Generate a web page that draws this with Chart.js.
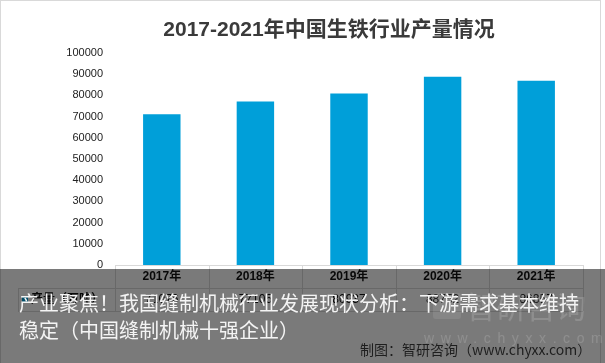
<!DOCTYPE html>
<html>
<head>
<meta charset="utf-8">
<script src="https://cdn.jsdelivr.net/npm/chart.js@4.4.1/dist/chart.umd.min.js"></script>
<style>
html,body{margin:0;padding:0;background:#fff;}
#wrap{position:relative;width:605px;height:363px;overflow:hidden;}
canvas{position:absolute;left:0;top:0;}
#overlay{position:absolute;left:0;top:269px;width:605px;height:94px;background:rgba(0,0,0,0.52);}
#wm1{position:absolute;left:466px;top:16px;font:30px "Noto Sans CJK SC";line-height:40px;color:rgba(255,255,255,0.15);white-space:nowrap;}
#wmicon{position:absolute;left:433px;top:24px;width:28px;height:26px;background:rgba(255,255,255,0.09);border-radius:3px;}
#wm2{position:absolute;left:424px;top:60px;font:14px "Liberation Sans";line-height:18px;color:rgba(255,255,255,0.15);letter-spacing:6.6px;white-space:nowrap;}
#l1{position:absolute;left:19px;top:21px;font:20px "Noto Sans CJK SC";color:#f4f4f4;white-space:nowrap;line-height:26px;}
#l2{position:absolute;left:19px;top:48px;font:20px "Noto Sans CJK SC";color:#f4f4f4;white-space:nowrap;line-height:26px;}
#src{position:absolute;left:360px;top:70px;font:14px "Noto Sans CJK SC";color:#1e1e1e;white-space:nowrap;line-height:20px;}
</style>
</head>
<body>
<div id="wrap">
<canvas id="c" width="605" height="363"></canvas>
<div id="overlay">
  <div id="wmicon"></div>
  <div id="wm1">智研咨询</div>
  <div id="wm2">www.chyxx.com</div>
  <div id="l1">产业聚焦！我国缝制机械行业发展现状分析：下游需求基本维持</div>
  <div id="l2">稳定（中国缝制机械十强企业）</div>
  <div id="src">制图：智研咨询（www.chyxx.com）</div>
</div>
</div>
<script>
const categories = ['2017年','2018年','2019年','2020年','2021年'];
const seriesName = '产量（万吨）';
const values = [71076, 77105, 80937, 88752, 86857];
const titleText = '2017-2021年中国生铁行业产量情况';
const yMin = 0, yMax = 100000, yStep = 10000;

const BLUE = '#009fd9';
const LINE = '#d9d9d9';

const tablePlugin = {
  id: 'tablePlugin',
  afterDraw(chart) {
    const ctx = chart.ctx;
    const xs = chart.scales.x;
    const ca = chart.chartArea;
    const top = ca.bottom;
    const mid = top + 23;
    const bot = top + 46;
    const left = 18;
    const n = categories.length;
    const w = (ca.right - ca.left) / n;
    ctx.save();
    ctx.fillStyle = '#3a3a3a';
    ctx.textAlign = 'center';
    ctx.textBaseline = 'middle';
    ctx.font = 'bold 21px "Liberation Sans", "Noto Sans CJK SC"';
    ctx.fillText(titleText, 329, 30);

    ctx.strokeStyle = LINE;
    ctx.lineWidth = 1;
    ctx.beginPath();
    ctx.moveTo(ca.left, top + 0.5); ctx.lineTo(ca.right, top + 0.5);
    ctx.moveTo(left, mid + 0.5); ctx.lineTo(ca.right, mid + 0.5);
    ctx.moveTo(left, bot + 0.5); ctx.lineTo(ca.right, bot + 0.5);
    ctx.moveTo(left + 0.5, mid); ctx.lineTo(left + 0.5, bot);
    for (let i = 0; i <= n; i++) {
      const x = Math.round(ca.left + i * w) + 0.5;
      ctx.moveTo(x, top); ctx.lineTo(x, bot);
    }
    ctx.stroke();
    ctx.fillStyle = '#111';
    ctx.font = 'bold 12px "Liberation Sans", "Noto Sans CJK SC"';
    categories.forEach((c, i) => {
      ctx.fillText(c, xs.getPixelForValue(i), top + 12);
    });
    ctx.font = '12px "Liberation Sans"';
    values.forEach((v, i) => {
      ctx.fillText(String(v), xs.getPixelForValue(i), mid + 12);
    });
    ctx.fillStyle = BLUE;
    ctx.fillRect(22, mid + 9, 6, 6);
    ctx.fillStyle = '#111';
    ctx.textAlign = 'left';
    ctx.font = 'bold 12px "Liberation Sans", "Noto Sans CJK SC"';
    ctx.fillText(seriesName, 31, mid + 12);
    ctx.strokeStyle = '#d9d9d9';
    ctx.strokeRect(0.5, 0.5, 600, 380);
    ctx.restore();
  }
};

new Chart(document.getElementById('c'), {
  type: 'bar',
  data: {
    labels: categories,
    datasets: [{
      label: seriesName,
      data: values,
      backgroundColor: BLUE,
      borderWidth: 0,
      categoryPercentage: 1.0,
      barPercentage: 0.4
    }]
  },
  options: {
    responsive: false,
    animation: false,
    devicePixelRatio: 1,
    layout: { padding: { left: 0, right: 22, top: 53, bottom: 52 } },
    plugins: {
      legend: { display: false },
      tooltip: { enabled: false },
      title: { display: false }
    },
    scales: {
      x: {
        display: true,
        grid: { display: false, drawTicks: false },
        border: { display: false },
        ticks: { display: false },
        afterFit(s) { s.height = 46; }
      },
      y: {
        min: yMin, max: yMax,
        grid: { display: false, drawTicks: false },
        border: { display: false },
        ticks: {
          stepSize: yStep,
          padding: 12,
          color: '#222',
          font: { family: '"Liberation Sans"', size: 11 },
          callback: (v) => String(v)
        },
        afterFit(s) { s.width = 115; }
      }
    }
  },
  plugins: [tablePlugin]
});
</script>
</body>
</html>
